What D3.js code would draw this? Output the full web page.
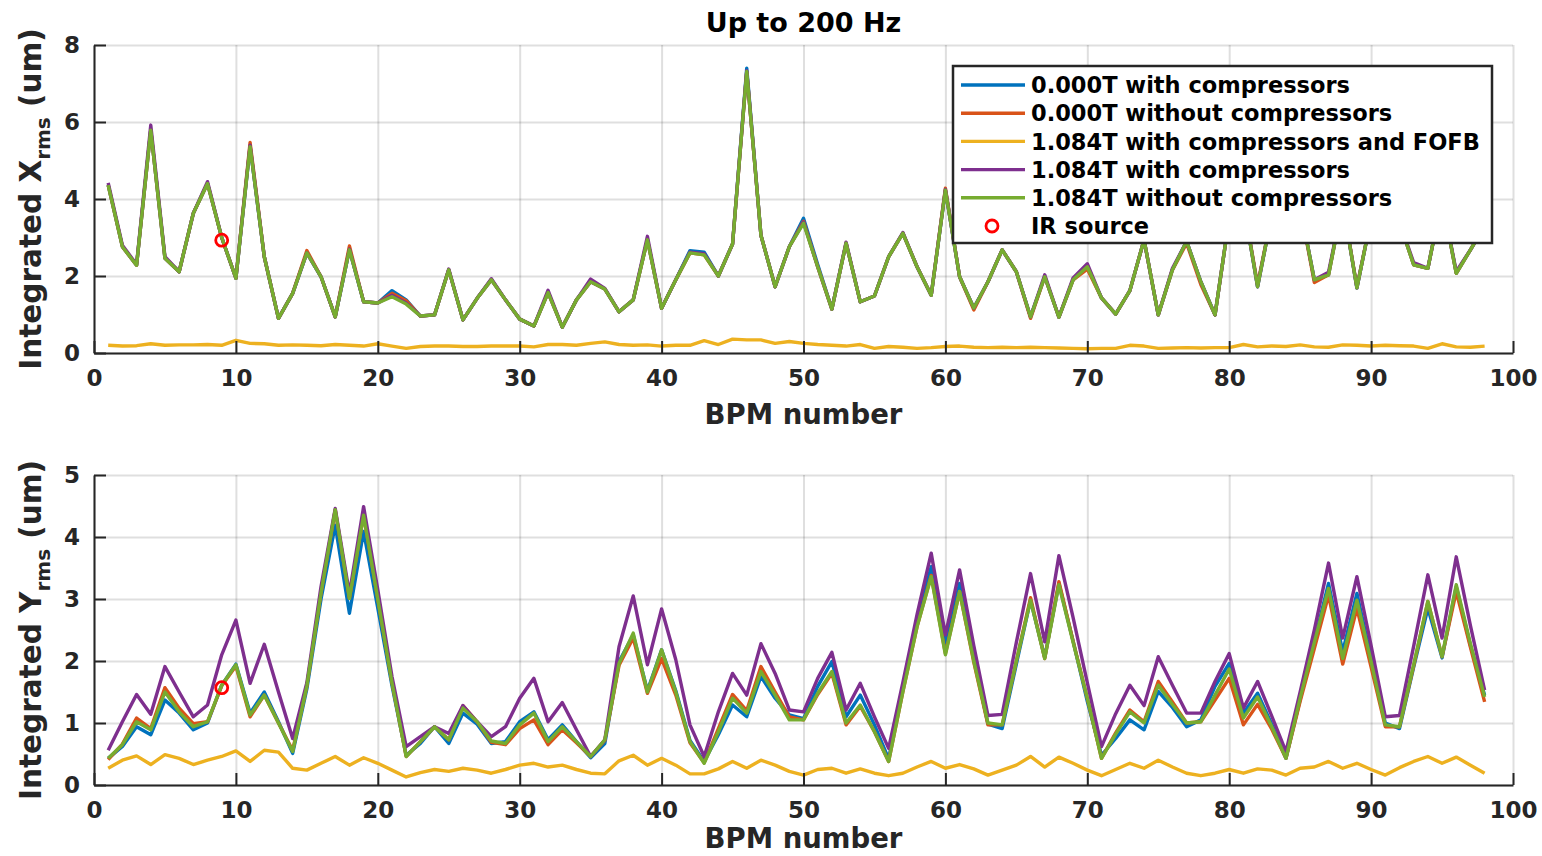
<!DOCTYPE html>
<html>
<head>
<meta charset="utf-8">
<script src="https://cdn.jsdelivr.net/npm/d3@7"></script>
<style>
  body { margin: 0; background: #fff; }
  svg { display: block; font-family: "DejaVu Sans", sans-serif; font-weight: bold; }
  .grid line { stroke: #262626; stroke-opacity: 0.15; stroke-width: 2; }
  .grid path { display: none; }
  .axis path, .axis line { stroke: #262626; stroke-width: 2; }
  .axis text { fill: #262626; font-size: 23px; font-weight: bold; font-family: "DejaVu Sans", sans-serif; }
  .series { fill: none; stroke-width: 3.4; stroke-linejoin: round; }
</style>
</head>
<body>
<svg id="canvas" width="1542" height="856"></svg>
<script>
// ---- data ----
const xTicks = [0, 10, 20, 30, 40, 50, 60, 70, 80, 90, 100];
const yTicksX = [0, 2, 4, 6, 8];
const yTicksY = [0, 1, 2, 3, 4, 5];

const names = [
  '0.000T with compressors',
  '0.000T without compressors',
  '1.084T with compressors and FOFB',
  '1.084T with compressors',
  '1.084T without compressors'
];
const colors = ['#0072BD', '#D95319', '#EDB120', '#7E2F8E', '#77AC30'];

// horizontal, integrated X rms (um), BPM 1..98
const xBlue = [4.36, 2.76, 2.28, 5.79, 2.46, 2.11, 3.63, 4.40, 3.00, 1.94,
  5.36, 2.50, 0.90, 1.55, 2.60, 1.98, 0.94, 2.68, 1.33, 1.30,
  1.62, 1.38, 0.96, 0.99, 2.16, 0.86, 1.42, 1.90, 1.38, 0.88,
  0.70, 1.57, 0.67, 1.38, 1.85, 1.66, 1.07, 1.38, 2.94, 1.16,
  1.90, 2.66, 2.62, 2.00, 2.83, 7.40, 3.06, 1.72, 2.76, 3.50,
  2.30, 1.14, 2.85, 1.33, 1.48, 2.50, 3.11, 2.24, 1.50, 4.23,
  1.98, 1.17, 1.85, 2.68, 2.11, 0.94, 1.98, 0.93, 1.90, 2.24,
  1.43, 1.01, 1.62, 2.94, 0.99, 2.16, 2.90, 1.85, 0.99, 3.50,
  3.90, 1.72, 3.60, 3.10, 3.80, 1.90, 2.03, 3.90, 1.69, 3.50,
  4.10, 3.40, 2.29, 2.20, 4.00, 2.07, 2.68, 3.30];
const xOrange = [4.36, 2.76, 2.28, 5.79, 2.46, 2.11, 3.63, 4.40, 3.00, 1.94,
  5.47, 2.50, 0.90, 1.55, 2.66, 1.98, 0.94, 2.78, 1.33, 1.30,
  1.55, 1.36, 0.96, 0.99, 2.16, 0.86, 1.42, 1.90, 1.38, 0.88,
  0.70, 1.57, 0.67, 1.38, 1.85, 1.66, 1.07, 1.38, 2.94, 1.16,
  1.90, 2.60, 2.55, 2.00, 2.83, 7.31, 3.06, 1.72, 2.76, 3.42,
  2.24, 1.14, 2.85, 1.33, 1.48, 2.50, 3.11, 2.24, 1.50, 4.28,
  1.98, 1.12, 1.85, 2.68, 2.11, 0.90, 1.98, 0.93, 1.90, 2.18,
  1.43, 1.01, 1.62, 2.94, 0.99, 2.16, 2.85, 1.78, 0.99, 3.50,
  3.90, 1.78, 3.60, 3.10, 3.80, 1.83, 2.03, 3.90, 1.72, 3.50,
  4.10, 3.40, 2.29, 2.20, 4.00, 2.07, 2.68, 3.30];
const xYellow = [0.20, 0.18, 0.19, 0.24, 0.20, 0.21, 0.21, 0.22, 0.20, 0.33,
  0.25, 0.24, 0.20, 0.21, 0.20, 0.19, 0.22, 0.20, 0.18, 0.24,
  0.18, 0.12, 0.17, 0.18, 0.18, 0.17, 0.17, 0.18, 0.18, 0.18,
  0.16, 0.22, 0.22, 0.20, 0.25, 0.29, 0.22, 0.20, 0.21, 0.18,
  0.20, 0.20, 0.32, 0.22, 0.36, 0.34, 0.34, 0.25, 0.30, 0.25,
  0.22, 0.20, 0.18, 0.22, 0.12, 0.17, 0.15, 0.12, 0.14, 0.17,
  0.18, 0.15, 0.14, 0.15, 0.14, 0.15, 0.14, 0.13, 0.12, 0.11,
  0.12, 0.12, 0.20, 0.18, 0.12, 0.13, 0.14, 0.13, 0.14, 0.14,
  0.22, 0.16, 0.18, 0.17, 0.21, 0.16, 0.15, 0.21, 0.20, 0.18,
  0.20, 0.19, 0.18, 0.12, 0.24, 0.16, 0.15, 0.18];
const xPurple = [4.42, 2.80, 2.30, 5.92, 2.50, 2.11, 3.63, 4.45, 3.00, 1.94,
  5.40, 2.50, 0.90, 1.55, 2.60, 1.98, 0.94, 2.70, 1.33, 1.30,
  1.50, 1.30, 0.96, 0.99, 2.18, 0.86, 1.42, 1.93, 1.38, 0.88,
  0.70, 1.63, 0.67, 1.38, 1.92, 1.68, 1.07, 1.38, 3.03, 1.16,
  1.90, 2.62, 2.58, 2.00, 2.83, 7.33, 3.06, 1.72, 2.76, 3.40,
  2.24, 1.14, 2.88, 1.33, 1.48, 2.50, 3.13, 2.24, 1.50, 4.25,
  1.98, 1.17, 1.85, 2.68, 2.11, 0.94, 2.03, 0.93, 1.95, 2.32,
  1.43, 1.01, 1.62, 2.94, 0.99, 2.20, 2.90, 1.85, 0.99, 3.50,
  3.90, 1.72, 3.60, 3.10, 3.80, 1.90, 2.10, 3.90, 1.69, 3.50,
  4.10, 3.40, 2.35, 2.20, 4.00, 2.12, 2.68, 3.30];
const xGreen = [4.36, 2.76, 2.28, 5.79, 2.46, 2.11, 3.63, 4.40, 3.00, 1.94,
  5.36, 2.50, 0.90, 1.55, 2.60, 1.98, 0.94, 2.68, 1.33, 1.30,
  1.46, 1.27, 0.96, 0.99, 2.16, 0.86, 1.42, 1.90, 1.38, 0.88,
  0.70, 1.57, 0.67, 1.38, 1.85, 1.66, 1.07, 1.38, 2.94, 1.16,
  1.90, 2.60, 2.55, 2.00, 2.83, 7.31, 3.06, 1.72, 2.76, 3.37,
  2.24, 1.14, 2.85, 1.33, 1.48, 2.50, 3.11, 2.24, 1.50, 4.23,
  1.98, 1.17, 1.85, 2.68, 2.11, 0.94, 1.98, 0.93, 1.90, 2.24,
  1.43, 1.01, 1.62, 2.94, 0.99, 2.16, 2.90, 1.85, 0.99, 3.50,
  3.90, 1.72, 3.60, 3.10, 3.80, 1.90, 2.03, 3.90, 1.69, 3.50,
  4.10, 3.40, 2.29, 2.20, 4.00, 2.07, 2.68, 3.30];

// vertical, integrated Y rms (um), BPM 1..98
const yBlue = [0.43, 0.62, 0.94, 0.81, 1.37, 1.16, 0.89, 1.00, 1.61, 1.95,
  1.16, 1.50, 1.02, 0.51, 1.55, 3.00, 4.19, 2.77, 4.09, 2.85,
  1.60, 0.48, 0.67, 0.94, 0.67, 1.16, 0.98, 0.67, 0.70, 1.02,
  1.18, 0.73, 0.97, 0.70, 0.44, 0.67, 1.99, 2.42, 1.52, 2.18,
  1.52, 0.72, 0.38, 0.81, 1.29, 1.10, 1.75, 1.40, 1.13, 1.07,
  1.59, 1.99, 1.10, 1.45, 0.97, 0.42, 1.55, 2.65, 3.52, 2.26,
  3.25, 2.05, 0.98, 0.91, 1.95, 2.98, 2.06, 3.25, 2.32, 1.35,
  0.48, 0.75, 1.05, 0.89, 1.51, 1.25, 0.94, 1.05, 1.59, 1.96,
  1.16, 1.48, 0.98, 0.43, 1.38, 2.32, 3.25, 2.15, 3.09, 2.05,
  1.00, 0.91, 1.90, 2.85, 2.05, 3.20, 2.25, 1.45];
const yOrange = [0.41, 0.66, 1.08, 0.91, 1.57, 1.24, 0.99, 1.02, 1.60, 1.92,
  1.10, 1.45, 1.00, 0.56, 1.60, 3.10, 4.44, 3.01, 4.35, 3.00,
  1.65, 0.46, 0.70, 0.94, 0.73, 1.28, 1.02, 0.69, 0.65, 0.91,
  1.05, 0.65, 0.89, 0.68, 0.46, 0.72, 1.93, 2.37, 1.48, 2.04,
  1.45, 0.68, 0.36, 0.91, 1.46, 1.20, 1.91, 1.50, 1.10, 1.05,
  1.46, 1.80, 0.97, 1.27, 0.86, 0.38, 1.50, 2.55, 3.38, 2.12,
  3.12, 1.98, 0.97, 0.97, 2.00, 3.02, 2.04, 3.28, 2.32, 1.40,
  0.43, 0.84, 1.21, 1.02, 1.67, 1.34, 1.00, 1.02, 1.37, 1.72,
  0.97, 1.30, 0.90, 0.43, 1.35, 2.20, 3.06, 1.95, 2.85, 1.90,
  0.94, 0.94, 1.92, 2.96, 2.07, 3.12, 2.22, 1.34];
const yYellow = [0.27, 0.40, 0.47, 0.33, 0.49, 0.43, 0.33, 0.40, 0.46, 0.55,
  0.38, 0.56, 0.53, 0.27, 0.24, 0.35, 0.46, 0.32, 0.44, 0.35,
  0.24, 0.13, 0.20, 0.25, 0.22, 0.27, 0.24, 0.19, 0.25, 0.32,
  0.35, 0.29, 0.32, 0.25, 0.19, 0.18, 0.39, 0.48, 0.32, 0.43,
  0.32, 0.18, 0.18, 0.26, 0.38, 0.27, 0.40, 0.32, 0.22, 0.16,
  0.25, 0.27, 0.19, 0.26, 0.19, 0.15, 0.19, 0.29, 0.38, 0.27,
  0.33, 0.26, 0.16, 0.24, 0.32, 0.46, 0.29, 0.45, 0.35, 0.24,
  0.15, 0.25, 0.35, 0.27, 0.40, 0.29, 0.19, 0.15, 0.19, 0.25,
  0.19, 0.26, 0.24, 0.16, 0.27, 0.29, 0.38, 0.27, 0.35, 0.25,
  0.16, 0.28, 0.38, 0.46, 0.35, 0.45, 0.32, 0.19];
const yPurple = [0.56, 1.02, 1.46, 1.14, 1.91, 1.50, 1.10, 1.29, 2.10, 2.66,
  1.64, 2.27, 1.50, 0.75, 1.65, 3.20, 4.46, 3.09, 4.49, 3.15,
  1.75, 0.62, 0.78, 0.94, 0.83, 1.28, 1.02, 0.78, 0.94, 1.40,
  1.72, 1.02, 1.33, 0.89, 0.46, 0.73, 2.23, 3.05, 1.94, 2.84,
  2.02, 0.97, 0.46, 1.18, 1.80, 1.45, 2.28, 1.80, 1.21, 1.18,
  1.72, 2.14, 1.21, 1.64, 1.10, 0.59, 1.65, 2.75, 3.74, 2.42,
  3.47, 2.25, 1.12, 1.14, 2.30, 3.41, 2.31, 3.70, 2.70, 1.65,
  0.62, 1.15, 1.61, 1.28, 2.07, 1.61, 1.16, 1.16, 1.67, 2.12,
  1.24, 1.67, 1.11, 0.54, 1.50, 2.50, 3.58, 2.37, 3.36, 2.25,
  1.10, 1.12, 2.24, 3.39, 2.37, 3.68, 2.57, 1.53];
const yGreen = [0.43, 0.65, 1.02, 0.89, 1.50, 1.18, 0.94, 1.02, 1.61, 1.94,
  1.13, 1.45, 1.00, 0.54, 1.60, 3.10, 4.44, 3.01, 4.35, 3.00,
  1.65, 0.46, 0.70, 0.94, 0.73, 1.24, 1.02, 0.71, 0.67, 0.97,
  1.16, 0.70, 0.94, 0.70, 0.46, 0.73, 1.96, 2.45, 1.50, 2.18,
  1.50, 0.70, 0.35, 0.86, 1.40, 1.16, 1.83, 1.45, 1.05, 1.05,
  1.48, 1.83, 1.00, 1.29, 0.86, 0.38, 1.50, 2.55, 3.36, 2.10,
  3.12, 2.00, 1.00, 0.97, 2.00, 2.98, 2.04, 3.23, 2.30, 1.40,
  0.43, 0.82, 1.18, 1.00, 1.61, 1.30, 1.00, 1.02, 1.45, 1.87,
  1.08, 1.42, 0.94, 0.43, 1.40, 2.30, 3.17, 2.04, 2.98, 1.99,
  0.97, 0.94, 1.94, 2.96, 2.07, 3.23, 2.28, 1.42];

// IR source marker [BPM, value]
const irX = [9, 2.93];
const irY = [9, 1.57];

// ---- drawing ----
const svg = d3.select('#canvas');
svg.append('rect').attr('width', 1542).attr('height', 856).attr('fill', '#fff');

const x = d3.scaleLinear().domain([0, 100]).range([94, 1513]);

function panel(top, bottom, yMax, yTicks, series, ir, sub, labelY) {
  const y = d3.scaleLinear().domain([0, yMax]).range([bottom, top]);

  // grid
  svg.append('g').classed('grid', true)
    .attr('transform', `translate(0,${bottom})`)
    .call(d3.axisBottom(x).tickValues(xTicks).tickSize(-(bottom - top)).tickFormat(''));
  svg.append('g').classed('grid', true)
    .attr('transform', `translate(${x(0)},0)`)
    .call(d3.axisLeft(y).tickValues(yTicks).tickSize(-(x(100) - x(0))).tickFormat(''));

  // lines
  const line = d3.line().x((d, i) => x(i + 1)).y(d => y(d));
  svg.append('g').selectAll('path')
    .data(series)
    .enter()
      .append('path')
      .classed('series', true)
      .attr('stroke', (d, i) => colors[i])
      .attr('d', d => line(d));

  // IR source
  svg.append('circle')
    .attr('cx', x(ir[0])).attr('cy', y(ir[1])).attr('r', 6)
    .attr('fill', 'none').attr('stroke', '#ff0000').attr('stroke-width', 2.8);

  // axes (ticks inside)
  svg.append('g').classed('axis', true)
    .attr('transform', `translate(0,${bottom})`)
    .call(d3.axisBottom(x).tickValues(xTicks).tickSizeInner(-12).tickSizeOuter(0).tickPadding(17));
  svg.append('g').classed('axis', true)
    .attr('transform', `translate(${x(0)},0)`)
    .call(d3.axisLeft(y).tickValues(yTicks).tickFormat(d3.format('d'))
      .tickSizeInner(-12).tickSizeOuter(0).tickPadding(14));

  // labels
  svg.append('text')
    .attr('x', (x(0) + x(100)) / 2).attr('y', labelY)
    .attr('text-anchor', 'middle').attr('fill', '#262626')
    .style('font-size', '27.5px')
    .text('BPM number');

  const yl = svg.append('text')
    .attr('transform', `translate(41,${(top + bottom) / 2}) rotate(-90)`)
    .attr('text-anchor', 'middle').attr('fill', '#262626')
    .style('font-size', '29.5px');
  yl.append('tspan').text('Integrated ' + sub);
  yl.append('tspan').attr('dy', 9).style('font-size', '20px').text('rms');
  yl.append('tspan').attr('dy', -9).text(' (um)');

  return y;
}

panel(45, 353, 8, yTicksX, [xBlue, xOrange, xYellow, xPurple, xGreen], irX, 'X', 424);
panel(475, 785, 5, yTicksY, [yBlue, yOrange, yYellow, yPurple, yGreen], irY, 'Y', 848);

// title
svg.append('text')
  .attr('x', (x(0) + x(100)) / 2).attr('y', 32)
  .attr('text-anchor', 'middle').attr('fill', '#000')
  .style('font-size', '27px')
  .text('Up to 200 Hz');

// legend
const lg = svg.append('g').attr('transform', 'translate(953,66)');
lg.append('rect')
  .attr('width', 539).attr('height', 177)
  .attr('fill', '#fff').attr('stroke', '#262626').attr('stroke-width', 2.5);

const rows = lg.selectAll('g.row')
  .data(names)
  .enter()
    .append('g')
    .attr('transform', (d, i) => `translate(0,${19 + i * 28.2})`);
rows.append('line')
  .attr('x1', 8).attr('x2', 72)
  .attr('stroke', (d, i) => colors[i]).attr('stroke-width', 3.4);
rows.append('text')
  .attr('x', 78).attr('dy', '0.36em')
  .attr('fill', '#000').style('font-size', '22.5px')
  .text(d => d);

const irRow = lg.append('g').attr('transform', `translate(0,${19 + 5 * 28.2})`);
irRow.append('circle')
  .attr('cx', 39).attr('r', 6)
  .attr('fill', 'none').attr('stroke', '#ff0000').attr('stroke-width', 2.8);
irRow.append('text')
  .attr('x', 78).attr('dy', '0.36em')
  .attr('fill', '#000').style('font-size', '22.5px')
  .text('IR source');
</script>
</body>
</html>
